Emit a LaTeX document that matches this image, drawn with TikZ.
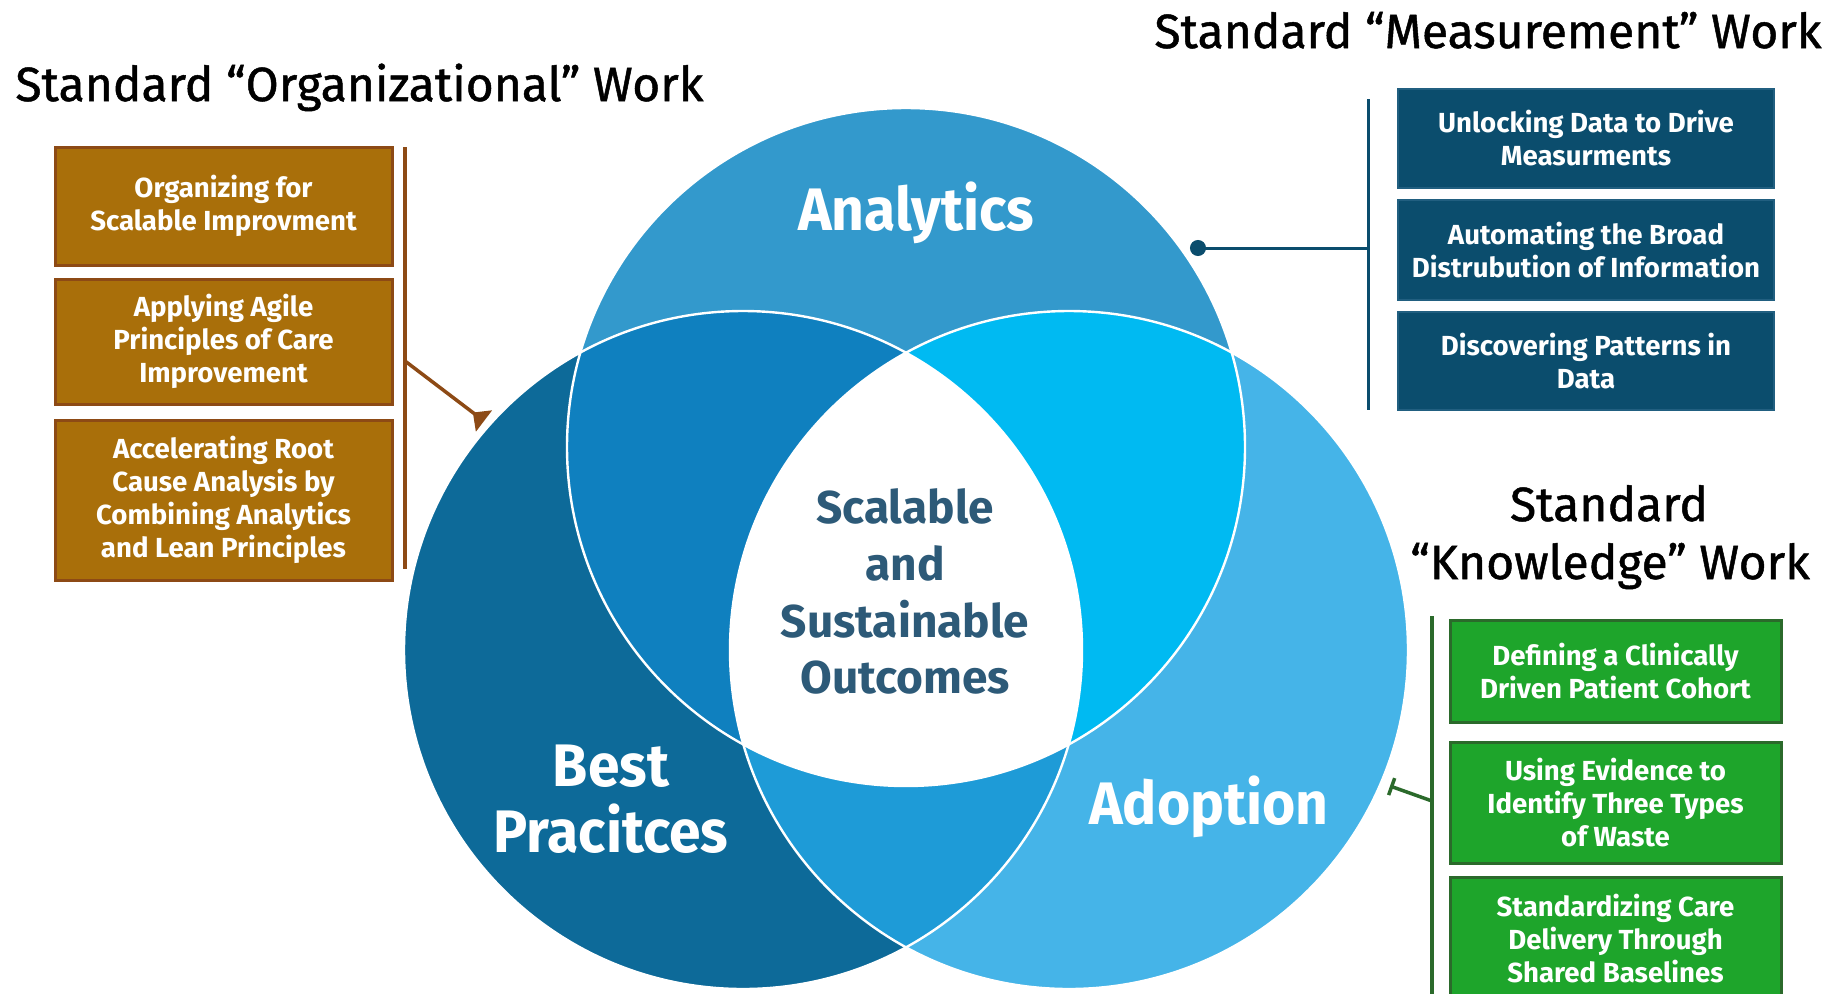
\documentclass[tikz,border=0pt]{standalone}
\usepackage{fontspec}
\setmainfont{Fira Sans}
\newfontfamily\titlefont{Fira Sans}[FakeBold=1]
\newfontfamily\labelfont{Fira Sans}[FakeStretch=0.95]
\usetikzlibrary{arrows.meta}
\definecolor{colA}{HTML}{3399CC}
\definecolor{colB}{HTML}{0D6A99}
\definecolor{colC}{HTML}{45B4E8}
\definecolor{colAB}{HTML}{0F80BF}
\definecolor{colAC}{HTML}{00BAF2}
\definecolor{colBC}{HTML}{1E9BD7}
\definecolor{centerT}{HTML}{2D5A78}
\definecolor{brownF}{HTML}{A96F0A}
\definecolor{brownD}{HTML}{8D4A15}
\definecolor{blueF}{HTML}{0B4D6D}
\definecolor{blueD}{HTML}{215F80}
\definecolor{greenF}{HTML}{1EA52B}
\definecolor{greenD}{HTML}{2B6A2B}
\begin{document}
\begin{tikzpicture}[x=0.5pt,y=-0.5pt,
  box/.style={line width=1.5pt, inner sep=0pt, align=center, text=white,
    font=\bfseries\fontsize{13.8}{16.5}\selectfont},
  brownbox/.style={box, fill=brownF, draw=brownD, minimum width=168.5pt},
  bluebox/.style={box, fill=blueF, draw=blueD, line width=1pt, minimum width=188pt},
  greenbox/.style={box, fill=greenF, draw=greenD, minimum width=165.5pt},
  title/.style={font=\titlefont\fontsize{24}{29}\selectfont, text=black, inner sep=0pt},
  circlabel/.style={font=\labelfont\bfseries\fontsize{30}{34}\selectfont, text=white, inner sep=0pt},
  centerlabel/.style={font=\bfseries\fontsize{23}{28}\selectfont, text=centerT, inner sep=0pt},
  outline/.style={draw=white, line width=1.2pt}
]
\useasboundingbox (0,0) rectangle (1842,993);
\clip (0,0) rectangle (1842,993);
\fill[white] (0,0) rectangle (1842,993);

% circles
\coordinate (cA) at (906,447);
\coordinate (cB) at (743,650);
\coordinate (cC) at (1069,650);
\fill[colA] (cA) circle[radius=339];
\fill[colB] (cB) circle[radius=339];
\fill[colC] (cC) circle[radius=339];
\begin{scope}\clip (cA) circle[radius=339]; \fill[colAB] (cB) circle[radius=339];\end{scope}
\begin{scope}\clip (cA) circle[radius=339]; \fill[colAC] (cC) circle[radius=339];\end{scope}
\begin{scope}\clip (cB) circle[radius=339]; \fill[colBC] (cC) circle[radius=339];\end{scope}
\begin{scope}\clip (cA) circle[radius=339]; \clip (cB) circle[radius=339]; \fill[white] (cC) circle[radius=339];\end{scope}
\draw[outline] (cA) circle[radius=339];
\draw[outline] (cB) circle[radius=339];
\draw[outline] (cC) circle[radius=339];

% circle labels
\node[circlabel, anchor=base] (lAn) at (916,230) {Analytics};
\node[circlabel, anchor=base] (lBe) at (611,786) {Best};
\node[circlabel, anchor=base] (lPr) at (611,852) {Pracitces};
\node[circlabel, anchor=base] (lAd) at (1209,824) {Adoption};
\node[centerlabel, anchor=base] (s1) at (905,523) {Scalable};
\node[centerlabel, anchor=base] (s2) at (905,580) {and};
\node[centerlabel, anchor=base] (s3) at (905,637) {Sustainable};
\node[centerlabel, anchor=base] (s4) at (905,693) {Outcomes};

% titles
\node[title, anchor=base west] (tOrg) at (15,101) {Standard “Organizational” Work};
\node[title, anchor=base west] (tMeas) at (1154,48) {Standard “Measurement” Work};
\node[title, anchor=base] (tKn1) at (1609,521) {Standard};
\node[title, anchor=base] (tKn2) at (1610,579) {“Knowledge” Work};

% brown boxes
\node[brownbox, minimum height=59pt] (o1) at (223.5,206) {Organizing for\\Scalable Improvment};
\node[brownbox, minimum height=62.5pt] (o2) at (223.5,341.5) {Applying Agile\\Principles of Care\\Improvement};
\node[brownbox, minimum height=80pt] (o3) at (223.5,500) {Accelerating Root\\Cause Analysis by\\Combining Analytics\\and Lean Principles};
\coordinate (oTop) at (405,147);
\coordinate (oBot) at (405,569);
\coordinate (oJoin) at (405,361);
\coordinate (oTip) at (484,421);
\draw[brownD, line width=1.75pt] (oTop) -- (oBot);
\draw[brownD, line width=1.75pt, -{Triangle[reversed, width=13pt, length=7pt]}] (oJoin) -- (oTip);

% blue boxes
\node[bluebox, minimum height=49.5pt] (m1) at (1586,138.5) {Unlocking Data to Drive\\Measurments};
\node[bluebox, minimum height=50pt] (m2) at (1586,250) {Automating the Broad\\Distrubution of Information};
\node[bluebox, minimum height=49pt] (m3) at (1586,361) {Discovering Patterns in\\Data};
\coordinate (mTop) at (1368,99);
\coordinate (mBot) at (1368,410);
\coordinate (mJoin) at (1368,248);
\coordinate (mDot) at (1190,248);
\draw[blueF, line width=1.5pt] (mTop) -- (mBot);
\draw[blueF, line width=1.5pt, -{Circle[length=8pt]}] (mJoin) -- (mDot);

% green boxes
\node[greenbox, minimum height=51pt] (k1) at (1615.5,671) {Defining a Clinically\\Driven Patient Cohort};
\node[greenbox, minimum height=60.5pt] (k2) at (1615.5,802.5) {Using Evidence to\\Identify Three Types\\of Waste};
\node[greenbox, minimum height=61.5pt] (k3) at (1615.5,938.5) {Standardizing Care\\Delivery Through\\Shared Baselines};
\coordinate (kTop) at (1432,616);
\coordinate (kBot) at (1432,1000);
\coordinate (kJoin) at (1432,801);
\coordinate (kTip) at (1390,786);
\draw[greenD, line width=1.75pt] (kTop) -- (kBot);
\draw[greenD, line width=1.75pt, -{Bar[width=9pt]}] (kJoin) -- (kTip);
\end{tikzpicture}
\end{document}
